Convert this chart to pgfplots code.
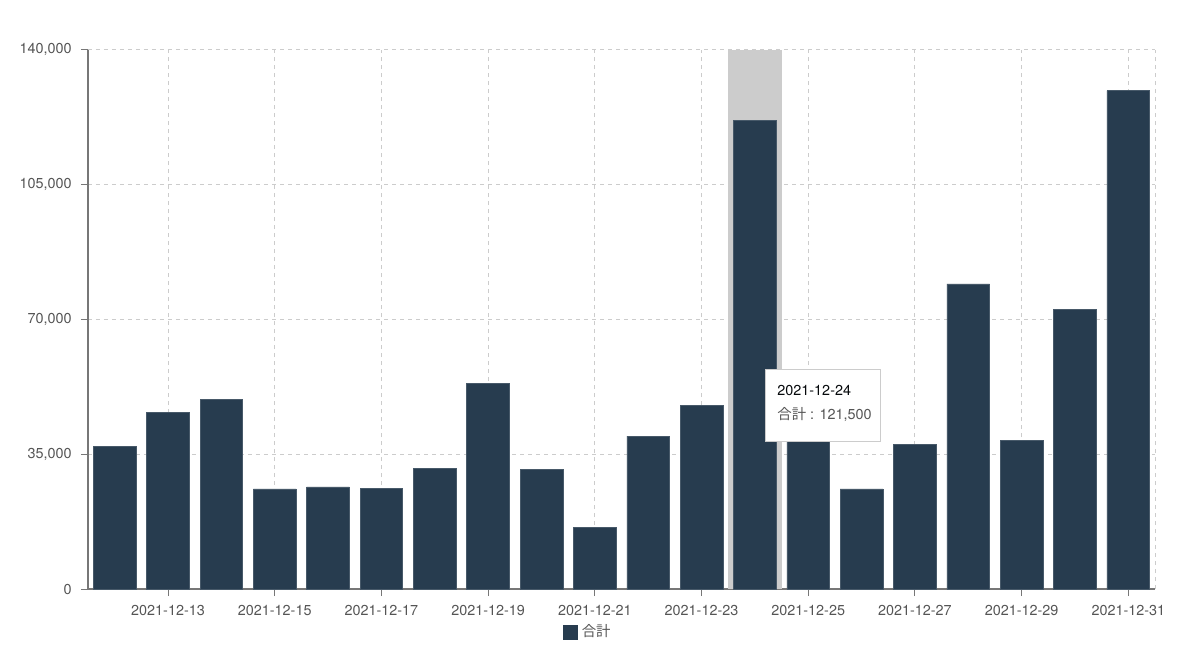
\documentclass[border=0pt]{standalone}
\usepackage{pgfplots}
\pgfplotsset{compat=1.18}
\usepackage{fontspec}
\setmainfont{TeX Gyre Heros}
\newfontfamily\cjk{Noto Sans CJK JP}
\definecolor{barcol}{HTML}{273C4F}
\definecolor{hlcol}{HTML}{CCCCCC}
\definecolor{gridcol}{HTML}{CCCCCC}
\definecolor{labcol}{HTML}{555555}
\definecolor{axcol}{HTML}{777777}
\begin{document}
\begin{tikzpicture}
\path[use as bounding box] (-44pt,-41pt) rectangle (556pt,294.5pt);
\begin{axis}[
  at={(0pt,0pt)}, anchor=south west,
  scale only axis, width=533.5pt, height=269.75pt,
  xmin=-0.5, xmax=19.5, ymin=0, ymax=140000,
  axis x line*=bottom, axis y line*=left,
  axis line style={color=axcol, line width=0.6pt},
  xtick={1,3,5,7,9,11,13,15,17,19},
  xticklabels={2021-12-13,2021-12-15,2021-12-17,2021-12-19,2021-12-21,2021-12-23,2021-12-25,2021-12-27,2021-12-29,2021-12-31},
  ytick={0,35000,70000,105000,140000},
  yticklabels={0,{35,000},{70,000},{105,000},{140,000}},
  scaled y ticks=false,
  tick label style={font=\fontsize{7.2pt}{8.6pt}\selectfont, color=labcol},
  xticklabel style={inner sep=0pt, yshift=-4.5pt},
  yticklabel style={inner sep=0pt, xshift=-4.5pt},
  tick align=outside, major tick length=3.5pt,
  tick style={color=axcol, line width=0.5pt},
  grid=major,
  major grid style={color=gridcol, dash pattern=on 2pt off 2pt, line width=0.5pt},
  legend style={at={(0.445,-0.0797)}, anchor=west, draw=none, fill=none, inner sep=0pt,
    font=\fontsize{7.2pt}{8.6pt}\selectfont\cjk, text=labcol},
  legend image code/.code={\fill[barcol] (0pt,-3.5pt) rectangle (7pt,3.5pt);},
  clip=false,
]
\draw[color=gridcol, dash pattern=on 2pt off 2pt, line width=0.5pt] (axis cs:19.5,0) -- (axis cs:19.5,140000);
\fill[hlcol] (axis cs:11.5,0) rectangle (axis cs:12.5,140000);
\addplot[ybar, bar width=0.8, bar shift=0pt, fill=barcol, draw=barcol!85!white, line width=0.3pt] coordinates {
(0,37100) (1,45900) (2,49200) (3,26000) (4,26500) (5,26200) (6,31400) (7,53400) (8,31100) (9,16000)
(10,39700) (11,47700) (12,121500) (13,40000) (14,26000) (15,37600) (16,79200) (17,38500) (18,72600) (19,129300)
};
\addlegendentry{合計}
\draw[draw=gridcol, fill=white, line width=0.5pt] (axis cs:12.203,38400) rectangle (axis cs:14.36,57000);
\node[anchor=west, inner sep=0pt, font=\fontsize{7.2pt}{8.6pt}\selectfont, text=black!85!barcol] at (axis cs:12.415,51640) {2021-12-24};
\node[anchor=west, inner sep=0pt, font=\fontsize{7.2pt}{8.6pt}\selectfont, text=labcol] at (axis cs:12.415,45150) {{\cjk 合計} : 121,500};
\end{axis}
\end{tikzpicture}
\end{document}
